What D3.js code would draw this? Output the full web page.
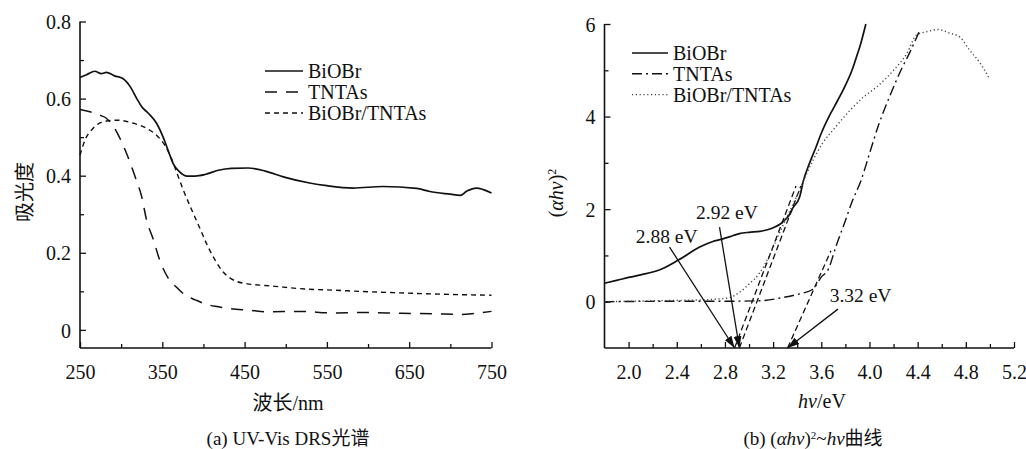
<!DOCTYPE html>
<html>
<head>
<meta charset="utf-8">
<script src="https://cdn.jsdelivr.net/npm/d3@7"></script>
<style>
  html, body { margin: 0; padding: 0; background: #fff; }
  svg { display: block; }
  svg text { font-family: "Liberation Serif", "DejaVu Serif", serif; fill: #111; }
  svg text.cjk { font-family: "Liberation Serif", "Noto Sans CJK SC", serif; }
</style>
</head>
<body>
<svg id="chart" width="1026" height="449"></svg>
<script>
// ---------- (a) UV-Vis DRS spectra ----------
const wlBiOBr = [250, 258, 268, 276, 282, 292, 302, 311, 319, 325, 333, 343, 351, 357, 363, 371, 380, 390, 402, 418, 434, 454, 475, 497, 529, 550, 582, 618, 659, 675, 700, 712, 720, 732, 740, 750];
const absBiOBr = [0.655, 0.662, 0.671, 0.665, 0.668, 0.659, 0.652, 0.631, 0.600, 0.579, 0.562, 0.536, 0.500, 0.466, 0.432, 0.410, 0.399, 0.399, 0.403, 0.414, 0.419, 0.420, 0.412, 0.397, 0.381, 0.374, 0.368, 0.372, 0.367, 0.359, 0.352, 0.349, 0.360, 0.368, 0.364, 0.355];

const wlTNTAs = [250, 262, 274, 282, 292, 305, 317, 325, 331, 339, 347, 357, 367, 378, 390, 404, 418, 432, 457, 477, 517, 558, 598, 640, 679, 712, 730, 750];
const absTNTAs = [0.572, 0.566, 0.557, 0.549, 0.523, 0.466, 0.397, 0.345, 0.284, 0.235, 0.180, 0.135, 0.111, 0.090, 0.078, 0.066, 0.060, 0.055, 0.051, 0.047, 0.048, 0.044, 0.045, 0.043, 0.042, 0.040, 0.043, 0.048];

const wlComposite = [250, 256, 266, 278, 295, 315, 331, 343, 353, 361, 369, 376, 385, 396, 405, 415, 424, 432, 440, 452, 475, 497, 517, 558, 600, 639, 700, 750];
const absComposite = [0.453, 0.492, 0.523, 0.540, 0.544, 0.536, 0.523, 0.505, 0.479, 0.445, 0.400, 0.360, 0.315, 0.262, 0.218, 0.178, 0.150, 0.135, 0.126, 0.120, 0.115, 0.111, 0.107, 0.103, 0.099, 0.096, 0.092, 0.090];

const wlTicks = [250, 350, 450, 550, 650, 750];
const wlMinor = [300, 400, 500, 600, 700];
const absTicks = [0, 0.2, 0.4, 0.6, 0.8];
const absMinor = [0.1, 0.3, 0.5, 0.7];

// ---------- (b) Tauc plot ----------
const evBiOBr = [1.80, 1.90, 2.01, 2.10, 2.26, 2.42, 2.59, 2.70, 2.76, 2.87, 2.92, 3.00, 3.09, 3.16, 3.21, 3.26, 3.30, 3.34, 3.36, 3.42, 3.45, 3.50, 3.55, 3.60, 3.67, 3.73, 3.79, 3.855, 3.90, 3.92, 3.97];
const taucBiOBr = [0.40, 0.46, 0.53, 0.58, 0.69, 0.91, 1.18, 1.30, 1.34, 1.43, 1.47, 1.50, 1.52, 1.56, 1.61, 1.68, 1.77, 1.90, 2.01, 2.26, 2.60, 2.98, 3.30, 3.64, 4.03, 4.32, 4.62, 5.00, 5.35, 5.51, 6.00];

const evTNTAs = [1.80, 2.40, 2.80, 3.09, 3.28, 3.42, 3.53, 3.60, 3.66, 3.72, 3.79, 3.86, 3.93, 4.00, 4.08, 4.17, 4.27, 4.33, 4.41];
const taucTNTAs = [0.00, 0.01, 0.01, 0.02, 0.09, 0.17, 0.27, 0.53, 0.71, 1.18, 1.68, 2.19, 2.62, 3.20, 3.85, 4.45, 5.05, 5.36, 5.82];

const evComposite = [1.80, 2.20, 2.60, 2.75, 2.84, 2.92, 3.00, 3.09, 3.17, 3.25, 3.34, 3.40, 3.46, 3.53, 3.61, 3.72, 3.84, 3.95, 4.06, 4.20, 4.31, 4.39, 4.47, 4.57, 4.67, 4.75, 4.83, 4.92, 5.00];
const taucComposite = [0.00, 0.02, 0.04, 0.06, 0.09, 0.20, 0.38, 0.63, 1.00, 1.47, 1.97, 2.30, 2.66, 3.05, 3.42, 3.78, 4.14, 4.42, 4.64, 5.00, 5.36, 5.76, 5.83, 5.88, 5.80, 5.72, 5.44, 5.15, 4.80];

const evTicks = [2.0, 2.4, 2.8, 3.2, 3.6, 4.0, 4.4, 4.8, 5.2];
const evMinor = [2.2, 2.6, 3.0, 3.4, 3.8, 4.2, 4.6, 5.0];
const taucTicks = [0, 2, 4, 6];
const taucMinor = [1, 3, 5];

// band-gap values read from the tangent intercepts
const gapNames = ["2.88 eV", "2.92 eV", "3.32 eV"];
const gapValues = [2.88, 2.92, 3.32];
const gapTangentTop = [[3.39, 2.5], [3.43, 2.5], [3.68, 1.1]];
const gapLabelAt = [[2.06, 1.26], [2.56, 1.78], [3.67, 0.0]];
const gapArrowFrom = [[2.34, 1.18], [2.755, 1.61], [3.738, -0.16]];

const legendNames = ["BiOBr", "TNTAs", "BiOBr/TNTAs"];

// ---------- drawing ----------
const svg = d3.select("#chart");
const ink = "#111";

const defs = svg.append("defs");
defs.append("marker")
  .attr("id", "arrowhead")
  .attr("viewBox", "0 0 12 8")
  .attr("refX", 12).attr("refY", 4)
  .attr("markerWidth", 12).attr("markerHeight", 8)
  .attr("markerUnits", "userSpaceOnUse")
  .attr("orient", "auto")
  .append("path")
  .attr("d", "M0,0 L12,4 L0,8 Z")
  .attr("fill", ink);

function zip(xs, ys) { return xs.map((x, i) => [x, ys[i]]); }

function drawAxes(g, x, y, xt, xm, yt, ym, xfmt, yfmt) {
  const [x0, x1] = x.range();
  const [yb, yt0] = y.range();
  // minor ticks
  g.append("g").attr("transform", `translate(0,${yb})`)
    .call(d3.axisBottom(x).tickValues(xm).tickSize(-4).tickFormat(""))
    .call(a => a.select(".domain").remove());
  g.append("g").attr("transform", `translate(${x0},0)`)
    .call(d3.axisLeft(y).tickValues(ym).tickSize(-4).tickFormat(""))
    .call(a => a.select(".domain").remove());
  // major ticks with labels
  const bx = g.append("g").attr("transform", `translate(0,${yb})`)
    .call(d3.axisBottom(x).tickValues(xt).tickSizeInner(-6).tickSizeOuter(0).tickPadding(17).tickFormat(xfmt));
  const ly = g.append("g").attr("transform", `translate(${x0},0)`)
    .call(d3.axisLeft(y).tickValues(yt).tickSizeInner(-6).tickSizeOuter(0).tickPadding(9).tickFormat(yfmt));
  g.selectAll("g").attr("font-family", null).attr("font-size", null);
  [bx, ly].forEach(a => {
    a.selectAll("text").attr("font-size", 20).style("fill", ink);
    a.select(".domain").attr("stroke", ink).attr("stroke-width", 1.6);
  });
  g.selectAll(".tick line").attr("stroke", ink).attr("stroke-width", 1.3);
  ly.selectAll("text").attr("dy", "0.36em");
  ly.select(".domain").attr("d", `M0,${yb}V${yt0}`);
  bx.select(".domain").attr("d", `M${x0},0H${x1}`);
}

// ---- panel (a)
const xL = d3.scaleLinear([250, 750], [80, 491.5]);
const yL = d3.scaleLinear([-0.047, 0.8], [348, 21.5]);
const gA = svg.append("g");
drawAxes(gA, xL, yL, wlTicks, wlMinor, absTicks, absMinor,
  d => d3.format("d")(d), d => d === 0 ? "0" : d3.format(".1f")(d));

const lineL = d3.line().x(d => xL(d[0])).y(d => yL(d[1])).curve(d3.curveMonotoneX);
const styleA = [
  { dash: null, w: 1.7 },
  { dash: "12,9", w: 1.5 },
  { dash: "5,4", w: 1.4 }
];
const seriesA = [zip(wlBiOBr, absBiOBr), zip(wlTNTAs, absTNTAs), zip(wlComposite, absComposite)];
seriesA.forEach((s, i) => {
  gA.append("path").datum(s).attr("d", lineL)
    .attr("fill", "none").attr("stroke", ink)
    .attr("stroke-width", styleA[i].w)
    .attr("stroke-dasharray", styleA[i].dash);
});

// legend (a)
const legA = gA.append("g").attr("transform", "translate(265,71)");
legendNames.forEach((n, i) => {
  const row = legA.append("g").attr("transform", `translate(0,${i * 21})`);
  row.append("line").attr("x1", 0).attr("x2", 38).attr("y1", 0).attr("y2", 0)
    .attr("stroke", ink).attr("stroke-width", styleA[i].w).attr("stroke-dasharray", styleA[i].dash);
  row.append("text").attr("x", 43).attr("y", 0).attr("dy", "0.35em").attr("font-size", 20).text(n);
});

gA.append("text").attr("class", "cjk")
  .attr("transform", "translate(25,192) rotate(-90)")
  .attr("text-anchor", "middle").attr("dy", "0.35em").attr("font-size", 20).text("吸光度");
gA.append("text").attr("class", "cjk")
  .attr("x", 288).attr("y", 410).attr("text-anchor", "middle").attr("font-size", 20).text("波长/nm");
gA.append("text").attr("class", "cjk")
  .attr("x", 288).attr("y", 445).attr("text-anchor", "middle").attr("font-size", 19).text("(a) UV-Vis DRS光谱");

// ---- panel (b)
const xR = d3.scaleLinear([1.8, 5.2], [604.5, 1014]);
const yR = d3.scaleLinear([-1, 6], [348, 24]);
const gB = svg.append("g");
drawAxes(gB, xR, yR, evTicks, evMinor, taucTicks, taucMinor,
  d => d3.format(".1f")(d), d => d3.format("d")(d));

const lineR = d3.line().x(d => xR(d[0])).y(d => yR(d[1])).curve(d3.curveMonotoneX);
const styleB = [
  { dash: null, w: 1.7, c: ink },
  { dash: "10,4,2,4", w: 1.4, c: ink },
  { dash: "1.2,2.6", w: 1.4, c: "#444" }
];
const seriesB = [zip(evBiOBr, taucBiOBr), zip(evTNTAs, taucTNTAs), zip(evComposite, taucComposite)];

// tangent extrapolations down to the axis
gapValues.forEach((v, i) => {
  gB.append("line")
    .attr("x1", xR(v)).attr("y1", yR(-1))
    .attr("x2", xR(gapTangentTop[i][0])).attr("y2", yR(gapTangentTop[i][1]))
    .attr("stroke", ink).attr("stroke-width", 1.3).attr("stroke-dasharray", "6,3.5");
});

seriesB.forEach((s, i) => {
  gB.append("path").datum(s).attr("d", lineR)
    .attr("fill", "none").attr("stroke", styleB[i].c)
    .attr("stroke-width", styleB[i].w)
    .attr("stroke-dasharray", styleB[i].dash);
});

// band-gap annotations
gapValues.forEach((v, i) => {
  gB.append("line")
    .attr("x1", xR(gapArrowFrom[i][0])).attr("y1", yR(gapArrowFrom[i][1]))
    .attr("x2", xR(v)).attr("y2", yR(-1))
    .attr("stroke", ink).attr("stroke-width", 1.3)
    .attr("marker-end", "url(#arrowhead)");
  gB.append("text")
    .attr("x", xR(gapLabelAt[i][0])).attr("y", yR(gapLabelAt[i][1]))
    .attr("font-size", 19.5).text(gapNames[i]);
});

// legend (b)
const legB = gB.append("g").attr("transform", "translate(632,53)");
legendNames.forEach((n, i) => {
  const row = legB.append("g").attr("transform", `translate(0,${i * 20.8})`);
  row.append("line").attr("x1", 0).attr("x2", 36).attr("y1", 0).attr("y2", 0)
    .attr("stroke", styleB[i].c).attr("stroke-width", styleB[i].w).attr("stroke-dasharray", styleB[i].dash);
  row.append("text").attr("x", 41).attr("y", 0).attr("dy", "0.35em").attr("font-size", 20).text(n);
});

// axis titles (b)
const yTitle = gB.append("text")
  .attr("transform", "translate(556,193) rotate(-90)")
  .attr("text-anchor", "middle").attr("dy", "0.35em").attr("font-size", 20);
yTitle.append("tspan").text("(");
yTitle.append("tspan").attr("font-style", "italic").text("αhv");
yTitle.append("tspan").text(")");
yTitle.append("tspan").attr("font-size", 12).attr("baseline-shift", "super").text("2");

const xTitle = gB.append("text").attr("x", 822).attr("y", 408)
  .attr("text-anchor", "middle").attr("font-size", 20);
xTitle.append("tspan").attr("font-style", "italic").text("hv");
xTitle.append("tspan").text("/eV");

const capB = gB.append("text").attr("class", "cjk").attr("x", 813).attr("y", 445)
  .attr("text-anchor", "middle").attr("font-size", 19);
capB.append("tspan").text("(b) (");
capB.append("tspan").attr("font-style", "italic").text("αhv");
capB.append("tspan").text(")");
capB.append("tspan").attr("font-size", 11).attr("baseline-shift", "super").text("2");
capB.append("tspan").text("~");
capB.append("tspan").attr("font-style", "italic").text("hv");
capB.append("tspan").text("曲线");
</script>
</body>
</html>
